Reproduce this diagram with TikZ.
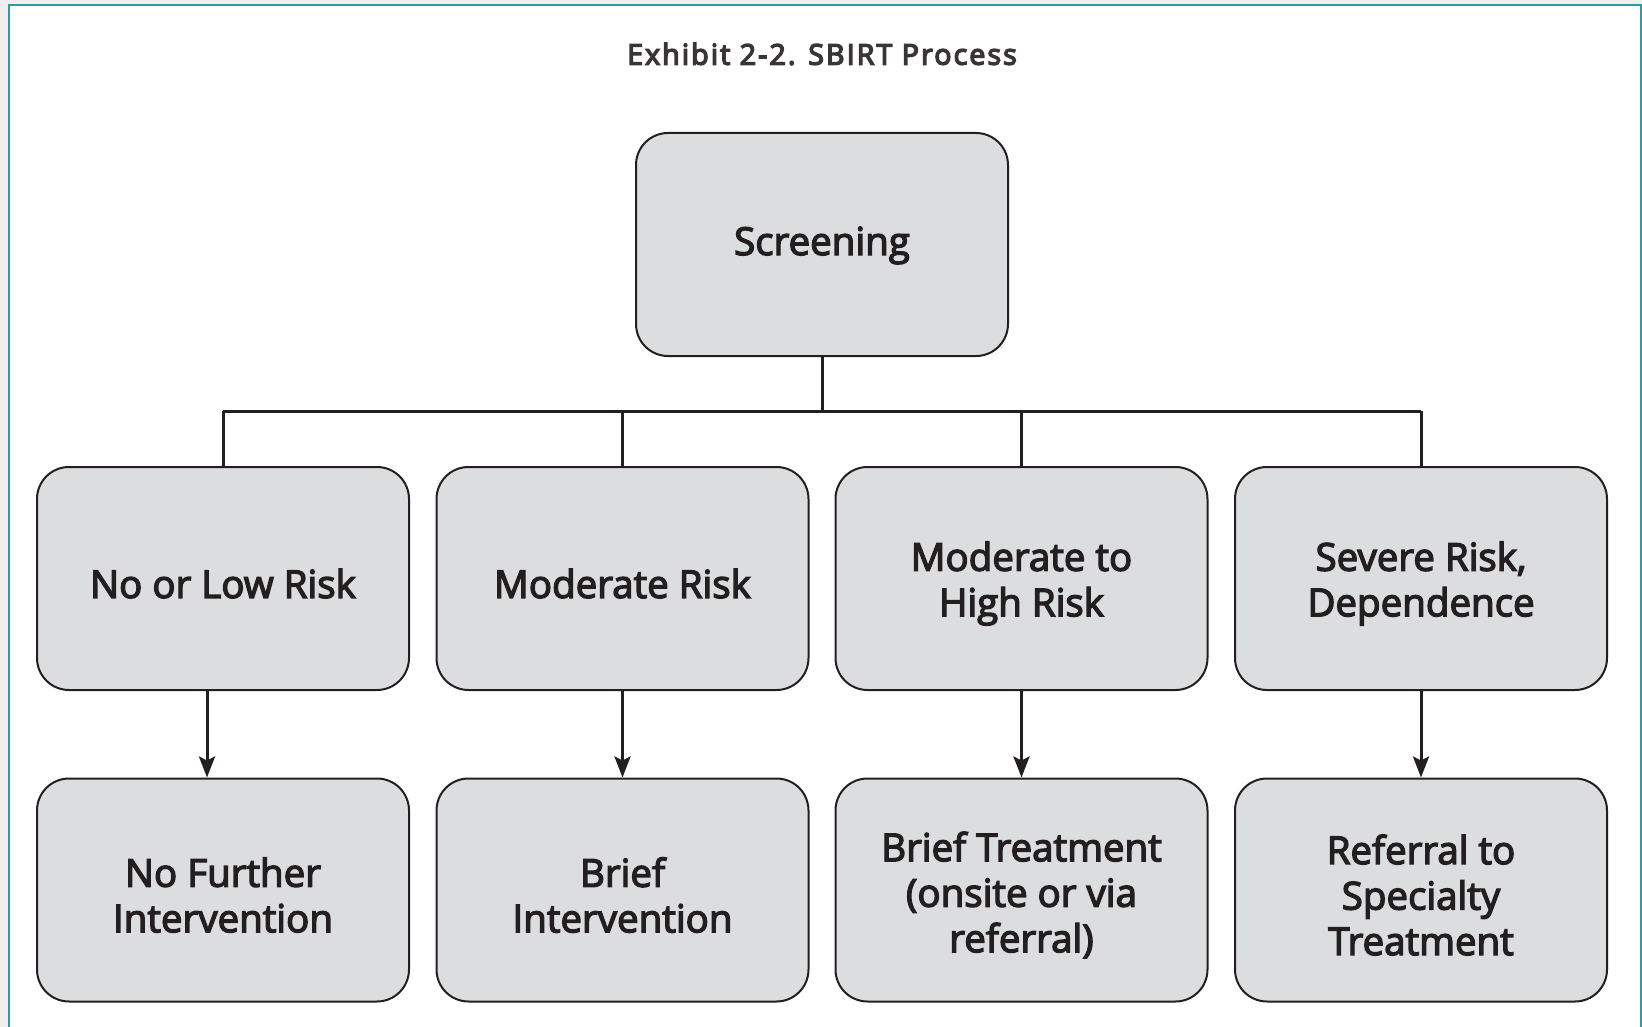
\documentclass[tikz,border=0pt]{standalone}
\usepackage{fontspec}
\setmainfont{Open Sans}
\newfontfamily\boxfont{Open Sans}[FakeBold=3.5]
\newfontfamily\titlefont{Open Sans}[FakeBold=5, LetterSpace=7.5]
\usetikzlibrary{arrows.meta}
\definecolor{framecol}{HTML}{2E9AA6}
\definecolor{boxfill}{HTML}{DCDDDF}
\definecolor{inkcol}{HTML}{231F20}
\definecolor{outside}{HTML}{EFEFEF}
\tikzset{
  stagebox/.style={draw=inkcol, line width=2pt, fill=boxfill, rounded corners=32pt,
    minimum width=372pt, minimum height=223pt, inner sep=0pt},
  boxtext/.style={align=center, yshift=-5pt, inner sep=0pt,
    font=\boxfont\fontsize{38.5}{45.5}\selectfont, text=inkcol},
  link/.style={draw=inkcol, line width=3pt},
  arr/.style={link, -{Stealth[length=21pt,width=16pt,inset=4pt]}},
}
\begin{document}
\begin{tikzpicture}[x=1pt,y=-1pt]
\useasboundingbox (0,0) rectangle (1642,1027);
\fill[outside] (0,0) rectangle (1642,1027);
\fill[white] (9,5) rectangle (1642,1027);
\draw[framecol, line width=2.5pt] (9,1030) -- (9,5) -- (1641,5) -- (1641,1030);

\node[font=\titlefont\fontsize{28.5}{31}\selectfont, text=inkcol!90] (title) at (822,54) {Exhibit 2-2. SBIRT Process};

\node[stagebox, label={[boxtext, yshift=4pt]center:{Screening}}] (scr) at (822,244.5) {};

\node[stagebox, label={[boxtext]center:{No or Low Risk}}] (r2a) at (223,578.5) {};
\node[stagebox, label={[boxtext]center:{Moderate Risk}}] (r2b) at (622.5,578.5) {};
\node[stagebox, label={[boxtext]center:{Moderate to\\High Risk}}] (r2c) at (1021.5,578.5) {};
\node[stagebox, label={[boxtext]center:{Severe Risk,\\Dependence}}] (r2d) at (1421,578.5) {};

\node[stagebox, label={[boxtext]center:{No Further\\Intervention}}] (r3a) at (223,890) {};
\node[stagebox, label={[boxtext]center:{Brief\\Intervention}}] (r3b) at (622.5,890) {};
\node[stagebox, label={[boxtext]center:{Brief Treatment\\(onsite or via\\referral)}}] (r3c) at (1021.5,890) {};
\node[stagebox, label={[boxtext]center:{Referral to\\Specialty\\Treatment}}] (r3d) at (1421,890) {};

\coordinate (bus) at (822,411);
\draw[link] (scr.south) -- (bus);
\draw[link] (r2a.north |- bus) -- (r2d.north |- bus);
\foreach \n in {r2a,r2b,r2c,r2d} \draw[link] (\n.north |- bus) -- (\n.north);

\draw[arr] ([xshift=-16pt]r2a.south) -- ([xshift=-16pt]r3a.north);
\draw[arr] (r2b.south) -- (r3b.north);
\draw[arr] (r2c.south) -- (r3c.north);
\draw[arr] (r2d.south) -- (r3d.north);
\end{tikzpicture}
\end{document}
